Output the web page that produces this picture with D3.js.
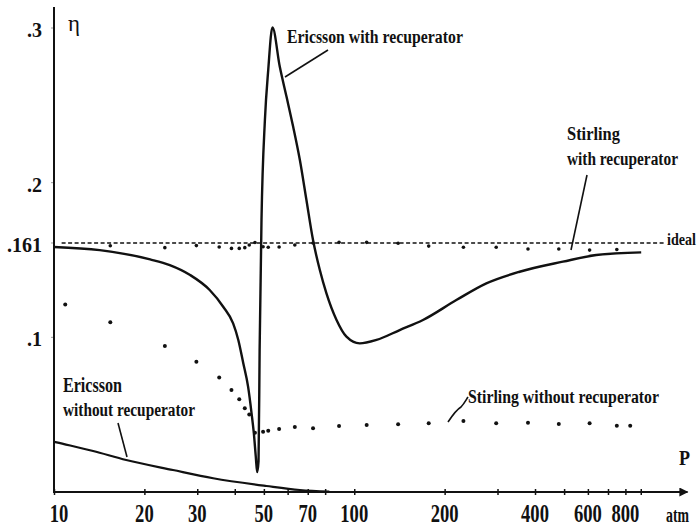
<!DOCTYPE html>
<html>
<head>
<meta charset="utf-8">
<script src="https://cdn.jsdelivr.net/npm/d3@7"></script>
<style>
  body { margin: 0; background: #fff; }
  text { font-family: "Liberation Serif", "Times New Roman", serif; fill: #111; }
</style>
</head>
<body>
<div id="graph"></div>
<script>
// pressure (atm) / efficiency readings
const ericRecP = [10, 14.2, 20.9, 24.3, 28.4, 33.0, 36.6, 39.5, 41.1, 42.7, 44.3, 45.5, 46.3, 47.0, 47.5, 48.0, 48.4, 49.1, 50.4, 51.7, 53.4, 56.5, 59.5, 62.6, 65.9, 69.3, 72.9, 76.8, 80.8, 87.3, 94.2, 104.3, 118.6, 141.7, 169.4, 218.8, 275.4, 355.4, 495.3, 639.7, 903];
const ericRecEta = [.1584, .1564, .1504, .1467, .1403, .1306, .1198, .1090, .0983, .0832, .0681, .0509, .0380, .0228, .0129, .0200, .0918, .1758, .2405, .2728, .3004, .2749, .2555, .2361, .2146, .1888, .1629, .1435, .1284, .1112, .1004, .0961, .0983, .1047, .1112, .1241, .1349, .1424, .1489, .1532, .1549];

const ericNoRecP = [10, 10.2, 13.5, 17.4, 24.9, 33.9, 51.0, 65.9, 82.6];
const ericNoRecEta = [.0325, .0321, .0265, .0207, .0142, .0089, .0039, .0013, .0002];

const stirRecP = [15.4, 23.4, 29.8, 35.5, 39.0, 41.4, 43.2, 44.7, 46.7, 49.7, 51.7, 56.2, 63.4, 72.9, 89.0, 110, 140, 177, 231, 297, 379, 480, 608, 749];
const stirRecEta = [.1592, .1580, .1593, .1584, .1575, .1575, .1580, .1597, .1613, .1586, .1582, .1584, .1597, .1610, .1614, .1614, .1608, .1590, .1582, .1582, .1571, .1571, .1564, .1568];

const stirNoRecP = [10.9, 15.4, 23.4, 29.8, 35.5, 39.0, 41.4, 43.2, 44.7, 46.7, 49.7, 51.7, 56.2, 63.4, 72.9, 89.0, 110, 140, 177, 231, 297, 379, 480, 608, 749, 830];
const stirNoRecEta = [.1213, .1097, .0944, .0842, .0740, .0659, .0600, .0541, .0501, .0383, .0390, .0396, .0407, .0420, .0412, .0427, .0433, .0438, .0444, .0459, .0444, .0448, .0440, .0444, .0429, .0429];

const idealEta = 0.161;
const idealP = [10.6, 1075];

const xTicks = [10, 20, 30, 40, 50, 60, 70, 80, 100, 200, 300, 400, 500, 600, 700, 800, 900];
const xLabels = [10, 20, 30, 50, 70, 100, 200, 400, 600, 800];
const yLabels = [[.1, ".1"], [.2, ".2"], [.161, ".161"], [.3, ".3"]];

const width = 697;
const height = 528;

const zip = (px, py) => px.map((p, i) => ({ p: p, eta: py[i] }));

function draw() {
  const svg = d3.select("#graph").append("svg")
    .attr("width", width)
    .attr("height", height);

  const x = d3.scaleLog().domain([10, 1000]).range([54, 654.5]);
  const y = d3.scaleLinear().domain([0, 0.3]).range([492, 28]);

  // squeezed text: measured, then scaled to the width seen in the scan
  const label = (txt, lx, ly, size, w, opts) => {
    opts = opts || {};
    const t = svg.append("text")
      .attr("font-size", size)
      .attr("font-weight", opts.weight || "bold")
      .text(txt);
    const len = t.node().getComputedTextLength();
    const sx = w / len;
    const left = opts.anchor === "middle" ? lx - w / 2 : lx;
    t.attr("transform", `translate(${left},${ly}) scale(${sx},1)`);
    return t;
  };

  // axes
  const xAxis = svg.append("g")
    .attr("transform", `translate(0,${y(0)})`)
    .call(d3.axisBottom(x).tickValues(xTicks).tickFormat("").tickSizeInner(3).tickSizeOuter(0));
  xAxis.select(".domain").remove();
  xAxis.selectAll(".tick line").attr("y1", -3).attr("stroke", "#111").attr("stroke-width", 1.5);

  svg.append("defs").append("marker")
    .attr("id", "arrow")
    .attr("viewBox", "0 0 10 10")
    .attr("refX", 9).attr("refY", 5)
    .attr("markerUnits", "userSpaceOnUse")
    .attr("markerWidth", 14).attr("markerHeight", 9)
    .attr("orient", "auto")
    .append("path").attr("d", "M0,0 L10,5 L0,10 z").attr("fill", "#111");

  svg.append("line")
    .attr("x1", x(10)).attr("x2", x.range()[1] + 33)
    .attr("y1", y(0)).attr("y2", y(0))
    .attr("stroke", "#111").attr("stroke-width", 2)
    .attr("marker-end", "url(#arrow)");

  svg.append("line")
    .attr("x1", x(10)).attr("x2", x(10))
    .attr("y1", 7).attr("y2", y(0) + 1)
    .attr("stroke", "#111").attr("stroke-width", 2);

  svg.append("g").selectAll("line")
    .data(yLabels)
    .join("line")
    .attr("x1", x(10) - 3).attr("x2", x(10) - 1)
    .attr("y1", d => y(d[0])).attr("y2", d => y(d[0]))
    .attr("stroke", "#999").attr("stroke-width", 1);

  // tick labels
  xLabels.forEach(d => {
    const cx = d === 10 ? x(d) + 5 : x(d);
    label(String(d), cx, 522, 26, String(d).length * 9.3, { anchor: "middle" });
  });

  svg.append("g").selectAll("text")
    .data(yLabels)
    .join("text")
    .attr("x", 42)
    .attr("y", d => y(d[0]) + 9)
    .attr("text-anchor", "end")
    .attr("font-size", 20)
    .attr("font-weight", "bold")
    .text(d => d[1]);

  label("η", 68, 31, 24, 12, { weight: "normal" });
  label("P", 679, 465, 22, 11);
  label("atm", 666, 522, 22, 23);

  // ideal
  svg.append("line")
    .attr("x1", x(idealP[0])).attr("x2", x(idealP[1]))
    .attr("y1", y(idealEta)).attr("y2", y(idealEta))
    .attr("stroke", "#111").attr("stroke-width", 1.5)
    .attr("stroke-dasharray", "4,2.5");

  const line = d3.line()
    .x(d => x(d.p))
    .y(d => y(d.eta))
    .curve(d3.curveMonotoneX);

  svg.append("path")
    .datum(zip(ericRecP, ericRecEta))
    .attr("d", line)
    .attr("fill", "none").attr("stroke", "#111").attr("stroke-width", 2.4);

  svg.append("path")
    .datum(zip(ericNoRecP, ericNoRecEta))
    .attr("d", line)
    .attr("fill", "none").attr("stroke", "#111").attr("stroke-width", 2.2);

  svg.append("g").selectAll("circle")
    .data(zip(stirRecP, stirRecEta))
    .join("circle")
    .attr("cx", d => x(d.p)).attr("cy", d => y(d.eta))
    .attr("r", 1.8).attr("fill", "#111");

  svg.append("g").selectAll("circle")
    .data(zip(stirNoRecP, stirNoRecEta))
    .join("circle")
    .attr("cx", d => x(d.p)).attr("cy", d => y(d.eta))
    .attr("r", 2).attr("fill", "#111");

  // annotations
  label("Ericsson with recuperator", 287, 43, 18, 176);
  label("Stirling", 567, 140, 19, 53);
  label("with recuperator", 567, 164.5, 19, 111);
  label("ideal", 667, 244.5, 16, 29);
  label("Stirling without recuperator", 468, 403, 19, 191);
  label("Ericsson", 63, 391.5, 20, 59);
  label("without recuperator", 63, 416, 19, 132);

  const leaders = [
    "M285,77 L328,50",
    "M587,175 L571,250",
    "M448,422 C452,416 456,410 461,407 C464,404 466,400 468,397",
    "M118,423 L127,457"
  ];
  svg.append("g").selectAll("path")
    .data(leaders)
    .join("path")
    .attr("d", d => d)
    .attr("fill", "none").attr("stroke", "#111").attr("stroke-width", 1.6);
}

draw();
</script>
</body>
</html>
